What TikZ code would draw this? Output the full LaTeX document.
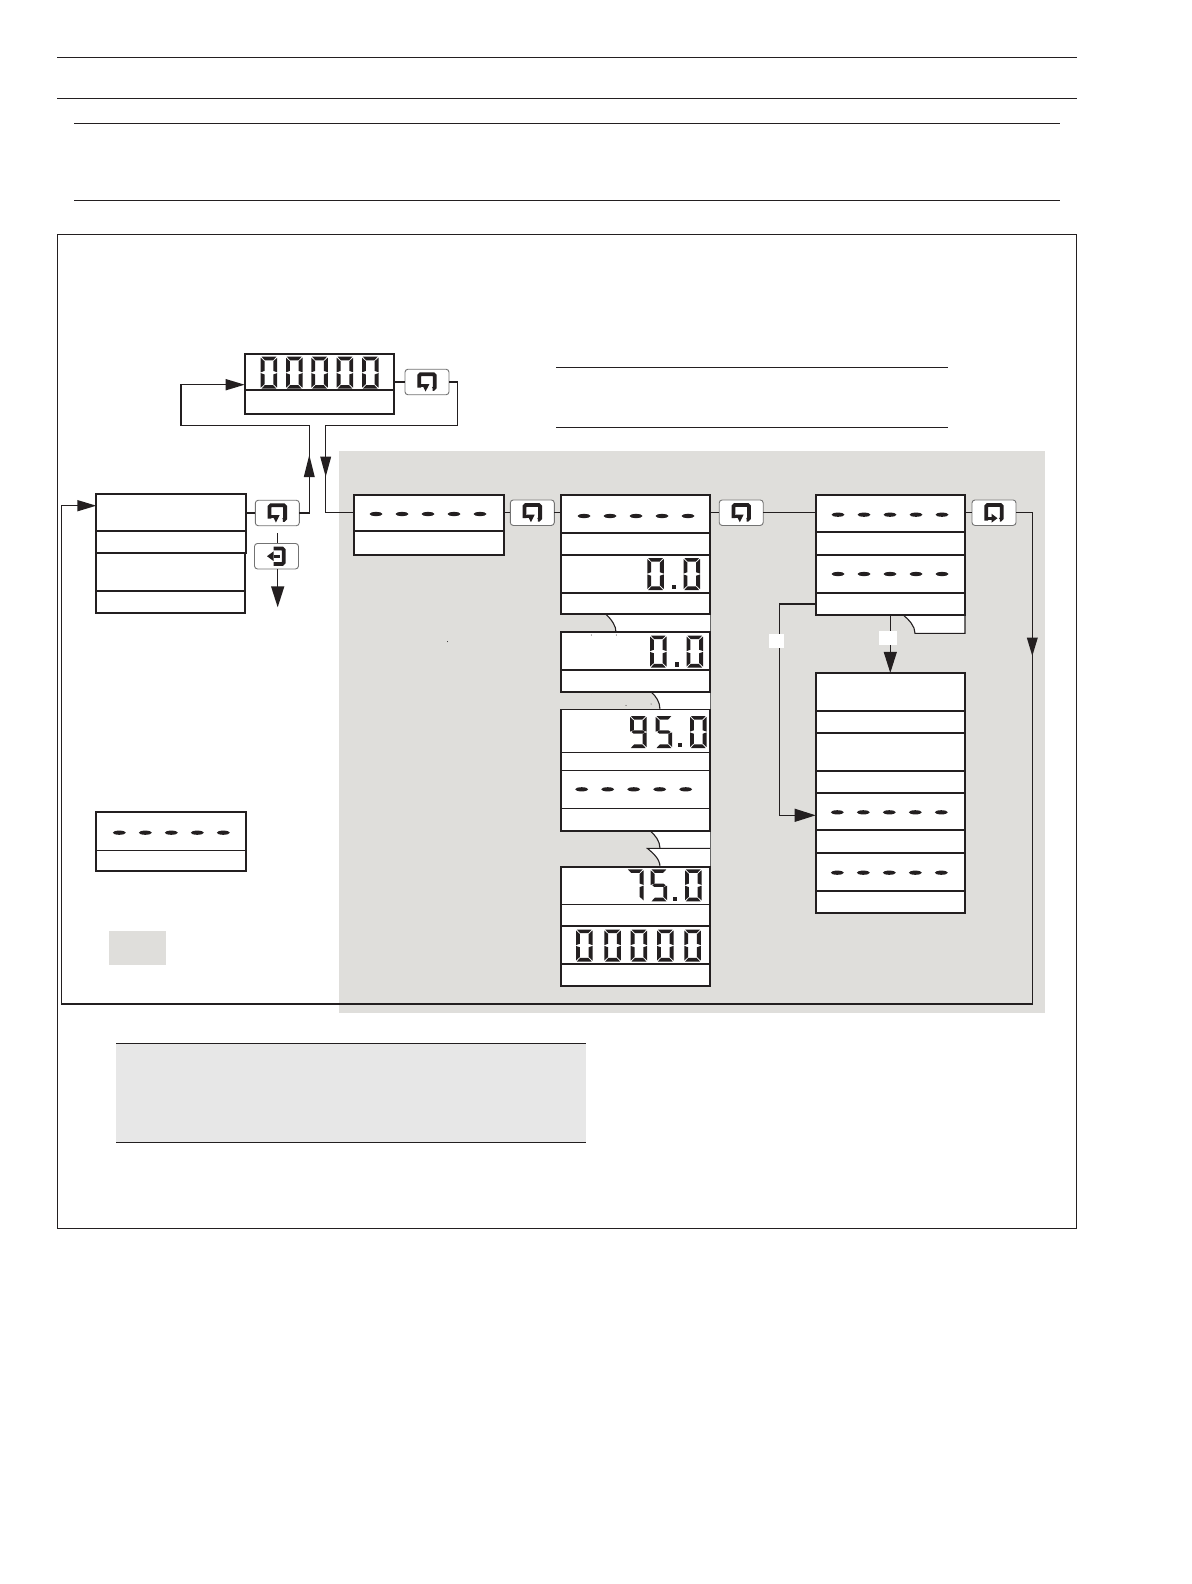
\documentclass[tikz,border=0pt]{standalone}
\usetikzlibrary{arrows.meta}
\definecolor{ink}{HTML}{231F20}
\definecolor{panel}{HTML}{DFDEDB}
\definecolor{notegrey}{HTML}{E7E7E7}
\tikzset{
  rulel/.style={draw=ink,line width=1.1pt},
  lcdbox/.style={rectangle,draw=ink,fill=white,line width=1.8pt,inner sep=0pt,outer sep=0pt},
  conn/.style={draw=ink,line width=1.5pt},
  fine/.style={draw=ink,line width=1.1pt},
  btnbox/.style={rectangle,rounded corners=3pt,draw=black!55,fill=white,line width=0.9pt,inner sep=0pt,outer sep=0pt,minimum width=44pt,minimum height=25.5pt},
  headS/.style={-{Triangle[length=19pt,width=11pt,fill=ink]}},
  headL/.style={-{Triangle[length=21pt,width=13pt,fill=ink]}},
}
% lcd display: two rows in one framed node; optional value is the divider width
\newcommand{\lcd}[7][1.7pt]{%
  \node[lcdbox,minimum width={(#6-#3)*1pt},minimum height={(#7-#4)*1pt}] (#2) at ({(#3+#6)/2},{(#4+#7)/2}) {};
  \draw[draw=ink,line width=#1] (#3,#5) -- (#6,#5);
}
% five dashes
\newcommand{\dashrow}[2]{%
  \foreach \i in {0,1,2,3,4}{\fill[ink] ({#1+26*\i},#2) ellipse [x radius=6.5,y radius=2.1];}%
}
% seven segments, design size 16 x 32
\newcommand{\segA}{\fill[ink] (0.8,0)--(15.2,0)--(12,3.6)--(4,3.6)--cycle;}
\newcommand{\segD}{\fill[ink] (0.8,32)--(15.2,32)--(12,28.4)--(4,28.4)--cycle;}
\newcommand{\segF}{\fill[ink] (0,1)--(3.8,4.6)--(3.8,14.2)--(0,15.6)--cycle;}
\newcommand{\segE}{\fill[ink] (0,16.4)--(3.8,17.8)--(3.8,27.4)--(0,31)--cycle;}
\newcommand{\segB}{\fill[ink] (16,1)--(12.2,4.6)--(12.2,14.2)--(16,15.6)--cycle;}
\newcommand{\segC}{\fill[ink] (16,16.4)--(12.2,17.8)--(12.2,27.4)--(16,31)--cycle;}
\newcommand{\segG}{\fill[ink] (3.5,14.4)--(12.5,14.4)--(14.5,16)--(12.5,17.6)--(3.5,17.6)--(1.5,16)--cycle;}
\newcommand{\dig}[4]{\begin{scope}[shift={(#1,#2)},xscale=#3/16,yscale=1]#4\end{scope}}
\newcommand{\dzero}{\segA\segB\segC\segD\segE\segF}
\newcommand{\dfive}{\segA\segF\segG\segC\segD}
\newcommand{\dnine}{\segA\segB\segC\segD\segF\segG}
\newcommand{\dseven}{\segA\segB\segC}
\newcommand{\lcdpoint}[2]{\fill[ink] ({#1-2.2},{#2-2.2}) rectangle ({#1+2.2},{#2+2.2});}
% button icons
\newcommand{\loopicon}[1]{%
  \begin{scope}[shift={(#1)}]
    \draw[ink,line width=3.8pt,rounded corners=1.5pt] (-7.8,5.5) -- (-7.8,-7.8) -- (7.8,-7.8) -- (7.8,7) -- (5.5,7);
    \draw[ink,line width=2.6pt] (-7.8,3.6) -- (-1.5,3.6);
    \fill[ink] (-5.2,2) -- (2.4,2) -- (-1.4,9.5) -- cycle;
  \end{scope}}
\newcommand{\loopiconR}[1]{%
  \begin{scope}[shift={(#1)}]
    \draw[ink,line width=3.8pt,rounded corners=1.5pt] (-7.8,8) -- (-7.8,-7.8) -- (7.8,-7.8) -- (7.8,7) -- (5.8,7);
    \draw[ink,line width=2.6pt] (-7.8,5.5) -- (-2,5.5);
    \fill[ink] (-2.5,1) -- (-2.5,10) -- (3.5,5.5) -- cycle;
  \end{scope}}
\newcommand{\exiticon}[1]{%
  \begin{scope}[shift={(#1)}]
    \draw[ink,line width=3.8pt,rounded corners=1.5pt] (-3,-7.8) -- (7.2,-7.8) -- (7.2,7.8) -- (-3,7.8);
    \draw[ink,line width=2.6pt] (-3,0) -- (3,0);
    \fill[ink] (-9.5,0) -- (-3,-4.8) -- (-3,4.8) -- cycle;
  \end{scope}}
\begin{document}
\begin{tikzpicture}[x=1pt,y=-1pt]
\useasboundingbox (0,0) rectangle (1191,1584);
\fill[white] (0,0) rectangle (1191,1584);
% header rules
\draw[rulel] (57,57.3) -- (1077,57.3);
\draw[rulel] (57,98.3) -- (1077,98.3);
\draw[rulel] (74,123.3) -- (1060,123.3);
\draw[rulel] (74,200.3) -- (1060,200.3);
% frame
\draw[rulel] (57.3,234.5) rectangle (1076.6,1228.5);
% short rules
\draw[rulel] (556,367.7) -- (948,367.7);
\draw[rulel] (556,427.3) -- (948,427.3);
% grey panel, swatch, note
\fill[panel] (339,451) rectangle (1045,1013);
\fill[panel] (109,931) rectangle (166,965);
\fill[notegrey] (116,1043.3) rectangle (586.3,1142.7);
\draw[rulel] (116,1043.3) -- (586.3,1043.3);
\draw[rulel] (116,1142.7) -- (586.3,1142.7);
% notches between stacked displays
\fill[white] (605.7,614) .. controls (612,620) and (616,626) .. (616,632) -- (710.3,632) -- (710.3,614) -- cycle;
\draw[fine] (605.7,614) .. controls (612,620) and (616,626) .. (616,632);
\draw[draw=black!60,line width=0.8pt] (710.3,614) -- (710.3,632);
\fill[white] (650.7,691.7) .. controls (656,696) and (660,702) .. (660,709.5) -- (710.3,709.5) -- (710.3,691.7) -- cycle;
\draw[fine] (650.7,691.7) .. controls (656,696) and (660,702) .. (660,709.5);
\draw[draw=black!60,line width=0.8pt] (710.3,691.7) -- (710.3,709.5);
\fill[white] (650,830.7) .. controls (655,835) and (660,841) .. (660,848.3) -- (647.3,848.3) .. controls (653,853) and (660,859) .. (660,866.7) -- (710.3,866.7) -- (710.3,830.7) -- cycle;
\draw[fine] (650,830.7) .. controls (655,835) and (660,841) .. (660,848.3);
\draw[fine] (710.3,848.3) -- (647.3,848.3) .. controls (653,853) and (660,859) .. (660,866.7);
\draw[draw=black!60,line width=0.8pt] (710.3,830.7) -- (710.3,866.7);
\fill[white] (903.3,615) .. controls (909,620) and (915,626) .. (915,633.3) -- (965,633.3) -- (965,615) -- cycle;
\draw[fine] (903.3,615) .. controls (909,620) and (915,626) .. (915,633.3) -- (965,633.3) -- (965,615);
% named bends
\coordinate (loopR) at (457.7,425.3);
\coordinate (loopD) at (325.7,512.7);
\coordinate (upR) at (309.3,425.3);
\coordinate (loopL) at (181,384.7);
\coordinate (fbBL) at (61.7,1004);
\coordinate (fbR) at (1032.3,1004);
\coordinate (fbTop) at (61.7,505.7);
\coordinate (brL) at (779.7,604);
\coordinate (brLin) at (779.7,815.3);
\coordinate (exitEnd) at (277.7,607.3);
\coordinate (exitTop) at (277.7,533);
\coordinate (midTip) at (890.3,672.9);
% displays
\lcd{dispA}{244.7}{354.3}{390.3}{394.3}{414}
\lcd{dispB}{96.3}{494}{531}{246}{552.7}
\lcd{dispC}{95.7}{552.7}{590.7}{245.3}{613.3}
\lcd{dispD}{354}{495}{531}{504}{555}
\lcd{dispE1}{560.7}{494.7}{533.3}{710.3}{555}
\lcd{dispE2}{560.7}{555}{592.7}{710.3}{614}
\lcd{dispE3}{560.7}{632}{669.7}{710.3}{691.7}
\lcd[1.1pt]{dispE4}{560.7}{709.5}{752.3}{710.3}{770.5}
\lcd[1.1pt]{dispE5}{560.7}{770.5}{808.3}{710.3}{830.7}
\lcd[1.1pt]{dispE6}{560.7}{866.7}{904.3}{710.3}{926}
\lcd[1.1pt]{dispE7}{560.7}{926}{964}{710.3}{986.3}
\lcd{dispF1}{815.7}{494.7}{532}{965}{555}
\lcd{dispF2}{815.7}{555}{592.7}{965}{615}
\lcd{dispF3}{815.7}{673.3}{710.7}{965}{732.7}
\lcd{dispF4}{815.7}{732.7}{770.7}{965}{792.7}
\lcd{dispF5}{815.7}{792.7}{830.3}{965}{852.7}
\lcd{dispF6}{815.7}{852.7}{890.7}{965}{912.7}
\lcd[1.1pt]{dispG}{95.7}{812}{850.3}{246.3}{870.7}
% buttons
\node[btnbox] (btnA) at (427,382) {};
\node[btnbox] (btnB) at (277.3,513) {};
\node[btnbox] (btnX) at (276.5,556.2) {};
\node[btnbox] (btnD) at (532.3,512.7) {};
\node[btnbox] (btnE) at (741.2,512.7) {};
\node[btnbox] (btnF) at (994,512.7) {};
\loopicon{btnA}
\loopicon{btnB}
\exiticon{btnX}
\loopicon{btnD}
\loopicon{btnE}
\loopiconR{btnF}
% connectors
\draw[conn] (dispA.east |- btnA) -- (btnA.west);
\draw[conn] (btnA.east) -- (loopR |- btnA) -- (loopR) -- (loopD |- loopR) -- (loopD) -- (dispD.west |- loopD);
\fill[ink] (325.7,476.7) -- (320.2,456.7) -- (331.2,456.7) -- cycle;
\draw[conn] (dispB.east |- btnB) -- (btnB.west);
\draw[conn,headS] (btnB.east) -- (upR |- btnB) -- (upR) -- (loopL |- upR) -- (loopL) -- (dispA.west |- loopL);
\fill[ink] (309.3,455) -- (303.8,477) -- (314.8,477) -- cycle;
\draw[conn] (exitTop) -- (btnX.north -| exitTop);
\draw[conn,headL] (btnX.south -| exitEnd) -- (exitEnd);
\draw[conn] (dispD.east |- btnD) -- (btnD.west);
\draw[conn] (btnD.east) -- (dispE1.west |- btnD);
\draw[conn] (dispE1.east |- btnE) -- (btnE.west);
\draw[conn] (btnE.east) -- (dispF1.west |- btnE);
\draw[conn] (dispF1.east |- btnF) -- (btnF.west);
\draw[conn,headS] (btnF.east) -- (fbR |- btnF) -- (fbR) -- (fbBL) -- (fbTop) -- (dispB.west |- fbTop);
\fill[ink] (1032.3,656) -- (1026.8,637.7) -- (1037.8,637.7) -- cycle;
\draw[fine,headL] (dispF2.west |- brL) -- (brL) -- (brLin) -- (dispF4.west |- brLin);
\draw[fine,headL] (midTip |- dispF2.south) -- (midTip);
% labels masked in white
\fill[white] (769.3,634.3) rectangle (784,647.7);
\fill[white] (879,631) rectangle (897,644.7);
% display contents
\dig{260.7}{356.7}{16.5}{\dzero}
\dig{286}{356.7}{16.5}{\dzero}
\dig{311.3}{356.7}{16.5}{\dzero}
\dig{336.7}{356.7}{16.5}{\dzero}
\dig{362}{356.7}{16.5}{\dzero}
\dashrow{376}{514}
\dashrow{584}{516}
\dig{647.3}{558}{16.5}{\dzero}
\lcdpoint{674}{587}
\dig{683.5}{558}{16.5}{\dzero}
\dig{650}{635.5}{16.5}{\dzero}
\lcdpoint{676.7}{664.5}
\dig{686.5}{635.5}{16.5}{\dzero}
\dig{630}{716}{16.5}{\dnine}
\dig{655.7}{716}{16.5}{\dfive}
\lcdpoint{680}{745}
\dig{690}{716}{16.5}{\dzero}
\dashrow{581.7}{789.3}
\dig{627}{869.3}{16.5}{\dseven}
\dig{650.7}{869.3}{16.5}{\dfive}
\lcdpoint{675}{899}
\dig{685}{869.3}{16.5}{\dzero}
\dig{576}{929.5}{16.5}{\dzero}
\dig{604.3}{929.5}{16.5}{\dzero}
\dig{630.7}{929.5}{16.5}{\dzero}
\dig{657}{929.5}{16.5}{\dzero}
\dig{684.3}{929.5}{16.5}{\dzero}
\dashrow{838}{514.7}
\dashrow{838}{574}
\dashrow{837.3}{812.3}
\dashrow{837.3}{872.7}
\dashrow{119.3}{832.7}
% specks
\foreach \p in {(591.3,635),(616.3,635),(626,705.3),(651,704),(447.5,641.5)}{\fill[ink] \p circle (0.5);}
\end{tikzpicture}
\end{document}
